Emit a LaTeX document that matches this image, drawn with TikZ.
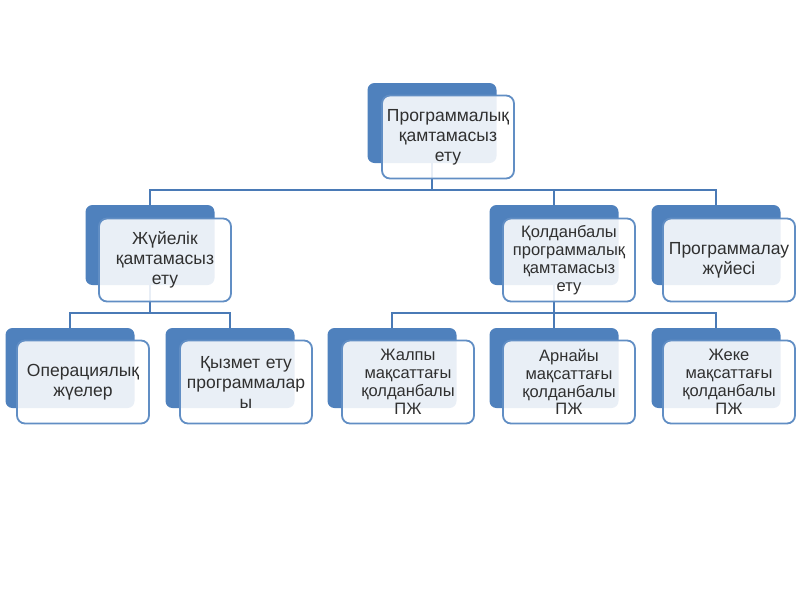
\documentclass[tikz,border=0pt]{standalone}
\usepackage{fontspec}
\newfontfamily\boxfont{Liberation Sans}
\usetikzlibrary{backgrounds}
\definecolor{ofblue}{HTML}{4F81BD}
\definecolor{ofline}{HTML}{4A7AB6}
\definecolor{oftext}{HTML}{303030}
\tikzset{
  backbox/.style={fill=ofblue, rounded corners=7pt, minimum width=129pt,
    minimum height=80pt, inner sep=0pt},
  frontbox/.style={draw=ofblue!90!white, line width=1.8pt, fill=white,
    fill opacity=0.88, text opacity=1, rounded corners=8pt,
    minimum width=132pt, minimum height=83pt, text width=132pt,
    align=center, inner sep=0pt, text=oftext,
    font=\boxfont\fontsize{17.5}{20}\selectfont},
  fourlines/.style={font=\boxfont\fontsize{16.5}{17.8}\selectfont},
  link/.style={draw=ofline, line width=1.8pt}
}
\begin{document}
\begin{tikzpicture}[x=1pt,y=-1pt]
  \useasboundingbox (0,0) rectangle (800,600);
  % top
  \node[backbox] (prog-b) at (432,123) {};
  \node[frontbox] (prog-f) at ([shift={(16,14)}]prog-b.center) {Программалық\\қамтамасыз\\ету};
  % second row
  \node[backbox] (sys-b) at (150,245) {};
  \node[frontbox] (sys-f) at ([shift={(15,15)}]sys-b.center) {Жүйелік\\қамтамасыз\\ету};
  \node[backbox] (app-b) at (554,245) {};
  \node[frontbox, fourlines] (app-f) at ([shift={(15,15)}]app-b.center) {Қолданбалы\\программалық\\қамтамасыз\\ету};
  \node[backbox] (lang-b) at (716,245) {};
  \node[frontbox] (lang-f) at ([shift={(13,15)}]lang-b.center) {Программалау\\жүйесі};
  % third row
  \node[backbox] (os-b) at (70,368) {};
  \node[frontbox] (os-f) at ([shift={(13,14)}]os-b.center) {Операциялық\\жүелер};
  \node[backbox] (util-b) at (230,368) {};
  \node[frontbox] (util-f) at ([shift={(16,14)}]util-b.center) {Қызмет ету\\программалар\\ы};
  \node[backbox] (gen-b) at (392,368) {};
  \node[frontbox, fourlines] (gen-f) at ([shift={(16,14)}]gen-b.center) {Жалпы\\мақсаттағы\\қолданбалы\\ПЖ};
  \node[backbox] (spec-b) at (554,368) {};
  \node[frontbox, fourlines] (spec-f) at ([shift={(15,14)}]spec-b.center) {Арнайы\\мақсаттағы\\қолданбалы\\ПЖ};
  \node[backbox] (priv-b) at (716,368) {};
  \node[frontbox, fourlines] (priv-f) at ([shift={(13,14)}]priv-b.center) {Жеке\\мақсаттағы\\қолданбалы\\ПЖ};
  % connectors
  \begin{scope}[on background layer]
    \fill[white] (0,0) rectangle (800,600);
    \foreach \child in {sys-b,app-b,lang-b}
      \draw[link] (prog-b.south) -- ++(0,27) -| (\child.north);
    \foreach \child in {os-b,util-b}
      \draw[link] (sys-b.south) -- ++(0,28) -| (\child.north);
    \foreach \child in {gen-b,spec-b,priv-b}
      \draw[link] (app-b.south) -- ++(0,28) -| (\child.north);
  \end{scope}
\end{tikzpicture}
\end{document}
